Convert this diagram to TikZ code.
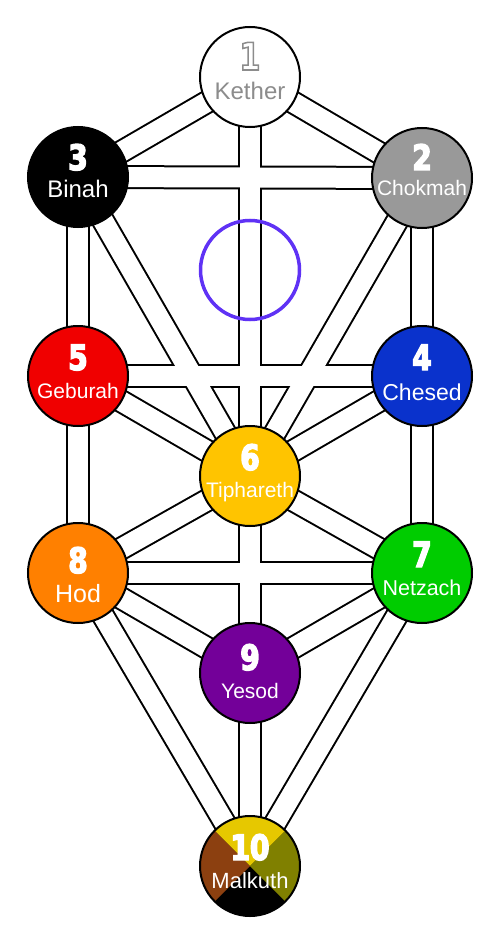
\documentclass[tikz,border=0pt]{standalone}
\usepackage{fontspec}
\setmainfont{Liberation Sans}
\newfontfamily\numfont[FakeStretch=0.8]{DejaVu Sans}
\usepackage{tikz}
\usetikzlibrary{backgrounds, positioning}
\usepackage{xcolor}
\definecolor{sgrey}{HTML}{999999}
\definecolor{kgrey}{HTML}{8C8C8C}
\definecolor{sblue}{HTML}{0A32CC}
\definecolor{sred}{HTML}{F00000}
\definecolor{sgold}{HTML}{FFC400}
\definecolor{sgreen}{HTML}{00CC00}
\definecolor{sorange}{HTML}{FF8000}
\definecolor{spurple}{HTML}{730099}
\definecolor{mkyellow}{HTML}{E6C800}
\definecolor{mkbrown}{HTML}{8C4010}
\definecolor{mkolive}{HTML}{808000}
\definecolor{daath}{HTML}{5F32F5}

\begin{document}
\begin{tikzpicture}[x=1pt, y=-1pt,
    sephira/.style={circle, draw=black, line width=2pt, minimum size=100pt, inner sep=0pt},
    numlbl/.style={anchor=base, text=white, font=\numfont\bfseries\fontsize{35}{35}\selectfont,
      execute at begin node=\special{pdf:literal direct 1.4 w 2 Tr},
      execute at end node=\special{pdf:literal direct 0 Tr}},
    namelbl/.style={anchor=base, text=white, font=\fontsize{#1}{#1}\selectfont},
    namelbl/.default=22,
    pathout/.style={line width=24pt, black},
    pathin/.style={line width=20pt, white}]
    \useasboundingbox (0,0) rectangle (496,936);

    % the ten sephiroth
    \node[sephira, fill=white] (kether) at (250,77) {};
    \node[sephira, fill=sgrey] (chokmah) at (422,178) {};
    \node[sephira, fill=black] (binah) at (78,177) {};
    \node[sephira, fill=sblue] (chesed) at (422,376) {};
    \node[sephira, fill=sred] (geburah) at (78,376) {};
    \node[sephira, fill=sgold] (tiphareth) at (250,476) {};
    \node[sephira, fill=sgreen] (netzach) at (422,573) {};
    \node[sephira, fill=sorange] (hod) at (78,573) {};
    \node[sephira, fill=spurple] (yesod) at (250,673) {};
    \node[sephira, fill=black, path picture={
        \coordinate (mc) at (path picture bounding box.center);
        \fill[mkyellow] (mc) -- ([shift={(45:80pt)}]mc) -- ([shift={(135:80pt)}]mc) -- cycle;
        \fill[mkbrown] (mc) -- ([shift={(135:80pt)}]mc) -- ([shift={(225:80pt)}]mc) -- cycle;
        \fill[mkolive] (mc) -- ([shift={(45:80pt)}]mc) -- ([shift={(-45:80pt)}]mc) -- cycle;
      }] (malkuth) at (250,866) {};

    % daath
    \node[circle, draw=daath, line width=3.5pt, minimum size=99pt, inner sep=0pt] (daathc) at (250,270) {};

    % numbers and names
    \node[numlbl, font=\numfont\bfseries\fontsize{38}{38}\selectfont] (n1) at ([yshift=7pt]kether.center) {\special{pdf:literal direct 0.55 G 1.5 w}1};
    \node[namelbl=24, text=kgrey] (l1) at ([yshift=-23pt]kether.center) {Kether};
    \node[numlbl] (n2) at ([yshift=8pt]chokmah.center) {2};
    \node[namelbl=21] (l2) at ([yshift=-18pt]chokmah.center) {Chokmah};
    \node[numlbl] (n3) at ([yshift=7pt]binah.center) {3};
    \node[namelbl=24] (l3) at ([yshift=-20pt]binah.center) {Binah};
    \node[numlbl] (n4) at ([yshift=6pt]chesed.center) {4};
    \node[namelbl=23] (l4) at ([yshift=-24pt]chesed.center) {Chesed};
    \node[numlbl] (n5) at ([yshift=6pt]geburah.center) {5};
    \node[namelbl=21] (l5) at ([yshift=-22pt]geburah.center) {Geburah};
    \node[numlbl] (n6) at ([yshift=6pt]tiphareth.center) {6};
    \node[namelbl=21] (l6) at ([yshift=-21pt]tiphareth.center) {Tiphareth};
    \node[numlbl] (n7) at ([yshift=6pt]netzach.center) {7};
    \node[namelbl=21.5] (l7) at ([yshift=-22pt]netzach.center) {Netzach};
    \node[numlbl] (n8) at ([yshift=0pt]hod.center) {8};
    \node[namelbl=25] (l8) at ([yshift=-29pt]hod.center) {Hod};
    \node[numlbl] (n9) at ([yshift=3pt]yesod.center) {9};
    \node[namelbl=21] (l9) at ([yshift=-25pt]yesod.center) {Yesod};
    \node[numlbl] (n10) at ([yshift=6pt]malkuth.center) {10};
    \node[namelbl=22] (l10) at ([yshift=-22pt]malkuth.center) {Malkuth};

    % the 22 paths
    \begin{pgfonlayer}{background}
      \foreach \a/\b in {kether/chokmah, kether/binah, kether/tiphareth, chokmah/binah,
          chokmah/chesed, chokmah/tiphareth, binah/geburah, binah/tiphareth,
          chesed/geburah, chesed/tiphareth, chesed/netzach, geburah/tiphareth,
          geburah/hod, tiphareth/netzach, tiphareth/hod, tiphareth/yesod,
          netzach/hod, netzach/yesod, netzach/malkuth, hod/yesod, hod/malkuth, yesod/malkuth}
        \draw[pathout] (\a.center) -- (\b.center);
      \foreach \a/\b in {kether/chokmah, kether/binah, kether/tiphareth, chokmah/binah,
          chokmah/chesed, chokmah/tiphareth, binah/geburah, binah/tiphareth,
          chesed/geburah, chesed/tiphareth, chesed/netzach, geburah/tiphareth,
          geburah/hod, tiphareth/netzach, tiphareth/hod, tiphareth/yesod,
          netzach/hod, netzach/yesod, netzach/malkuth, hod/yesod, hod/malkuth, yesod/malkuth}
        \draw[pathin] (\a.center) -- (\b.center);
    \end{pgfonlayer}
  \end{tikzpicture}
\end{document}
